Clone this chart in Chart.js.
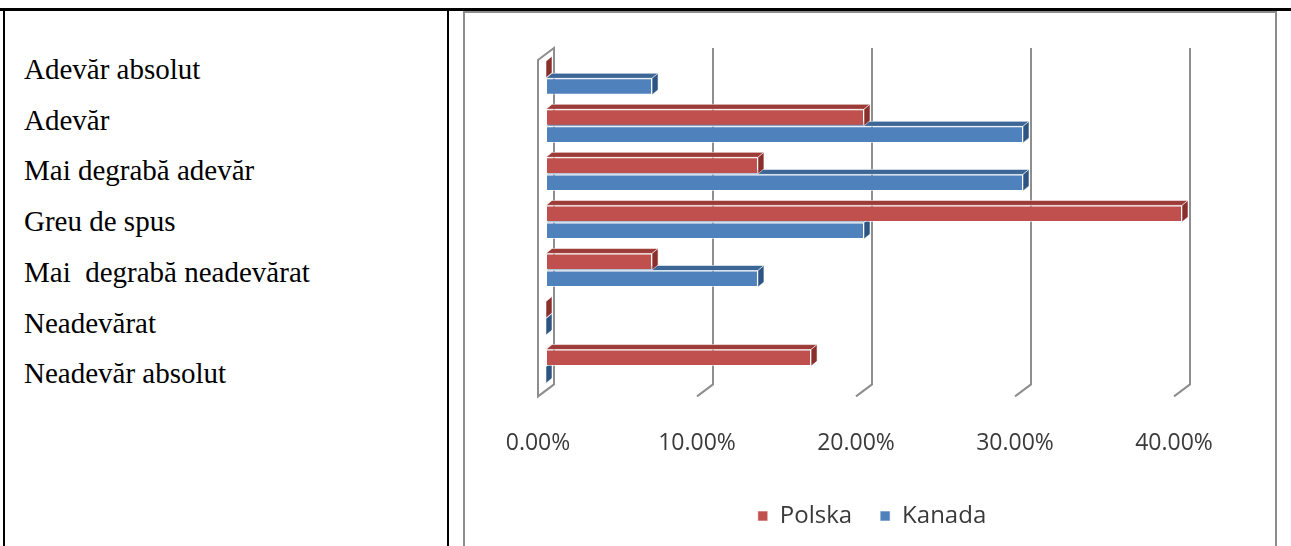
<!DOCTYPE html>
<html>
<head>
<meta charset="utf-8">
<script src="https://cdn.jsdelivr.net/npm/chart.js@4.4.1/dist/chart.umd.min.js"></script>
<style>
  html, body { margin: 0; padding: 0; background: #fff; width: 1291px; height: 546px; overflow: hidden; }
  .rule { position: absolute; background: #000; }
  #topRule { left: 0; top: 8px; width: 1291px; height: 3px; }
  #leftRule { left: 3px; top: 8px; width: 2px; height: 560px; }
  #midRule { left: 447px; top: 8px; width: 2px; height: 560px; }
  #labels {
    position: absolute; left: 24px; top: 44px;
    font-family: 'Liberation Serif', 'Times New Roman', serif;
    font-size: 29px; line-height: 50.7px; color: #000; white-space: pre;
  }
  #frame {
    position: absolute; left: 463px; top: 11px; width: 810px; height: 580px;
    border: 2px solid #8c8c8c;
  }
</style>
</head>
<body>
<div class="rule" id="topRule"></div>
<div class="rule" id="leftRule"></div>
<div class="rule" id="midRule"></div>
<div id="labels"></div>
<div id="frame"><canvas id="chart" width="810" height="560"></canvas></div>

<script>
// Answer categories (top to bottom)
const categories = [
  'Adevăr absolut',
  'Adevăr',
  'Mai degrabă adevăr',
  'Greu de spus',
  'Mai  degrabă neadevărat',
  'Neadevărat',
  'Neadevăr absolut'
];

// Share of answers, percent
const polska = [0, 20, 13.33, 40, 6.67, 0, 16.67];
const kanada = [6.67, 30, 30, 20, 13.33, 0, 0];

const seriesNames = ['Polska', 'Kanada'];
const tickValues = [0, 10, 20, 30, 40];

// Category labels in the left table cell
const labelBox = document.getElementById('labels');
categories.forEach(c => {
  const d = document.createElement('div');
  d.textContent = c;
  labelBox.appendChild(d);
});

const fontFamily = "'Open Sans', 'Liberation Sans', sans-serif";
const textColor = '#3a3a3a';

// Back wall, side wall, floor lines and the depth faces of the bars
const depthPlugin = {
  id: 'depth',
  afterLayout(chart) {
    // nudge the legend row a little to the right
    if (chart.legend) { chart.legend.left += 8; chart.legend.right += 8; }
  },
  beforeDatasetsDraw(chart) {
    const { ctx, chartArea: { top, bottom }, scales: { x } } = chart;
    const bx = 8, by = 6;
    ctx.save();
    ctx.strokeStyle = '#8e8e8e';
    ctx.lineWidth = 2;
    ctx.lineJoin = 'miter';

    const p0 = x.getPixelForValue(tickValues[0]);
    ctx.fillStyle = '#fff';
    ctx.beginPath();
    ctx.moveTo(p0 - bx, top + by);
    ctx.lineTo(p0 + bx, top - by);
    ctx.lineTo(p0 + bx, bottom - by);
    ctx.lineTo(p0 - bx, bottom + by);
    ctx.closePath();
    ctx.fill();
    ctx.stroke();

    tickValues.slice(1).forEach(v => {
      const p = x.getPixelForValue(v);
      ctx.beginPath();
      ctx.moveTo(p + bx, top - by);
      ctx.lineTo(p + bx, bottom - by);
      ctx.lineTo(p - bx, bottom + by);
      ctx.stroke();
    });

    const dx = 6, dy = 5;
    for (let i = chart.data.datasets.length - 1; i >= 0; i--) {
      const ds = chart.data.datasets[i];
      const meta = chart.getDatasetMeta(i);
      meta.data.forEach(bar => {
        const { x: xe, y: yc, base, height } = bar.getProps(['x', 'y', 'base', 'height'], true);
        const t = yc - height / 2, b = yc + height / 2;
        ctx.fillStyle = ds.topColor;
        ctx.beginPath();
        ctx.moveTo(base, t);
        ctx.lineTo(base + dx, t - dy);
        ctx.lineTo(xe + dx, t - dy);
        ctx.lineTo(xe, t);
        ctx.closePath();
        ctx.fill();
        ctx.strokeStyle = 'rgba(255,255,255,0.55)';
        ctx.lineWidth = 1;
        ctx.stroke();
        ctx.fillStyle = ds.sideColor;
        ctx.beginPath();
        ctx.moveTo(xe, t);
        ctx.lineTo(xe + dx, t - dy);
        ctx.lineTo(xe + dx, b - dy);
        ctx.lineTo(xe, b);
        ctx.closePath();
        ctx.fill();
        ctx.stroke();
      });
    }
    ctx.restore();
  }
};

new Chart(document.getElementById('chart'), {
  type: 'bar',
  data: {
    labels: categories,
    datasets: [
      {
        label: seriesNames[0], data: polska,
        backgroundColor: '#c0504d', topColor: '#9d3b38', sideColor: '#8a2f2c',
        borderColor: 'rgba(255,255,255,0.6)', borderWidth: 1, borderSkipped: false
      },
      {
        label: seriesNames[1], data: kanada,
        backgroundColor: '#4f81bd', topColor: '#3b6696', sideColor: '#2d5482',
        borderColor: 'rgba(255,255,255,0.6)', borderWidth: 1, borderSkipped: false
      }
    ]
  },
  options: {
    indexAxis: 'y',
    responsive: false,
    animation: false,
    categoryPercentage: 0.71,
    barPercentage: 0.97,
    layout: { padding: { left: 81, right: 93, top: 41, bottom: 35 } },
    scales: {
      x: {
        min: 0, max: 40,
        afterBuildTicks: s => { s.ticks = tickValues.map(v => ({ value: v })); },
        afterFit: s => { s.height -= 12; },
        ticks: {
          callback: v => v.toFixed(2) + '%',
          labelOffset: -8,
          padding: 31,
          font: { family: fontFamily, size: 23 },
          color: textColor,
          maxRotation: 0
        },
        grid: { display: false },
        border: { display: false }
      },
      y: { display: false }
    },
    plugins: {
      legend: {
        position: 'bottom',
        labels: {
          boxWidth: 10, boxHeight: 10, padding: 28,
          font: { family: fontFamily, size: 24 }, color: textColor
        }
      },
      tooltip: { enabled: false }
    }
  },
  plugins: [depthPlugin]
});
</script>
</body>
</html>
